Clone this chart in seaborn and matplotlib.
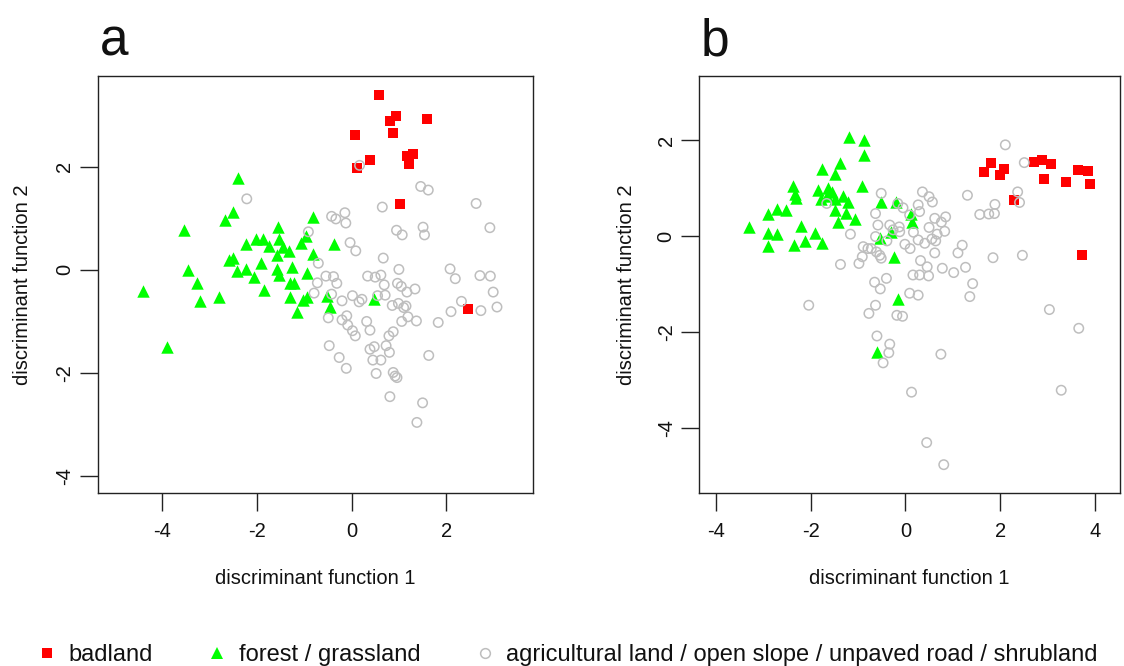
import numpy as np
import pandas as pd
import matplotlib
matplotlib.use("Agg")
import matplotlib.pyplot as plt
from matplotlib.lines import Line2D
import seaborn as sns

# ---------------- data ----------------
classes = ["badland", "forest / grassland",
           "agricultural land / open slope / unpaved road / shrubland"]

# panel a
a_bad_x = [0.58, 0.93, 0.81, 1.59, 0.08, 0.88, 0.39, 1.18, 1.29, 1.22, 0.12, 1.03, 2.45]
a_bad_y = [3.39, 2.99, 2.89, 2.92, 2.62, 2.65, 2.13, 2.21, 2.25, 2.05, 1.97, 1.28, -0.76]

a_for_x = [-2.40, -2.51, -2.66, -3.53, -1.56, -0.81, -2.22, -2.02, -1.86, -1.75, -1.53,
           -1.45, -1.31, -1.58, -0.97, -1.06, -0.81, -2.58, -2.51, -1.91, -2.23, -2.41,
           -1.58, -1.25, -0.94, -1.53, -2.05, -3.45, -3.27, -1.29, -1.22, -4.40, -3.19,
           -2.80, -1.84, -1.29, -1.03, -0.94, -1.15, -3.90, -0.36, -0.52, -0.45, 0.48]
a_for_y = [1.79, 1.13, 0.97, 0.78, 0.84, 1.02, 0.50, 0.60, 0.60, 0.47, 0.60,
           0.45, 0.36, 0.29, 0.65, 0.52, 0.30, 0.19, 0.24, 0.13, 0.01, -0.02,
           0.02, 0.05, -0.06, -0.10, -0.13, 0.00, -0.25, -0.26, -0.26, -0.41, -0.60,
           -0.52, -0.39, -0.52, -0.58, -0.52, -0.82, -1.49, 0.50, -0.50, -0.71, -0.57]

a_agr_x = [0.17, 1.46, 1.62, 2.63, 0.65, -0.42, -0.33, -0.14, -0.12, -0.91, 0.95, 1.07,
           1.51, 1.54, 2.92, -0.03, 0.09, -0.70, 0.67, 1.00, 2.08, 2.19, 2.71, 2.93,
           -0.54, -0.38, -0.72, -0.31, 0.34, 0.50, 0.62, 0.69, 0.97, 1.05, 1.17, 1.34,
           2.99, 3.07, 2.73, 2.32, 2.10, 1.83, -0.79, -0.42, -0.20, 0.02, 0.16, 0.22,
           0.55, 0.71, 0.86, 0.99, 1.10, 1.15, 1.06, 1.19, 1.37, -0.49, -0.20, -0.10,
           -0.08, 0.02, 0.08, 0.32, 0.39, 0.79, 0.88, -0.47, 0.39, 0.48, 0.73, 0.80,
           0.45, 0.62, -0.26, -0.11, 0.52, 0.88, 0.96, 0.92, 1.63, 0.81, 1.50, 1.38,
           -2.21]
a_agr_y = [2.03, 1.62, 1.55, 1.29, 1.22, 1.04, 0.99, 1.11, 0.91, 0.74, 0.77, 0.68,
           0.83, 0.68, 0.82, 0.53, 0.37, 0.13, 0.23, 0.01, 0.02, -0.17, -0.11, -0.12,
           -0.12, -0.13, -0.25, -0.26, -0.12, -0.14, -0.10, -0.29, -0.26, -0.32, -0.43, -0.37,
           -0.43, -0.72, -0.79, -0.61, -0.81, -1.02, -0.45, -0.47, -0.60, -0.50, -0.62, -0.57,
           -0.50, -0.49, -0.69, -0.65, -0.73, -0.70, -1.00, -0.91, -0.99, -0.93, -0.97, -0.89,
           -1.07, -1.18, -1.28, -1.00, -1.17, -1.28, -1.20, -1.47, -1.54, -1.49, -1.47, -1.60,
           -1.75, -1.75, -1.70, -1.91, -2.01, -1.99, -2.09, -2.06, -1.66, -2.46, -2.58, -2.96,
           1.38]

# panel b
b_bad_x = [1.81, 1.66, 2.08, 2.00, 2.72, 2.88, 3.08, 2.93, 3.39, 3.64, 3.86, 3.90, 2.29, 3.73]
b_bad_y = [1.53, 1.34, 1.39, 1.28, 1.55, 1.58, 1.51, 1.19, 1.13, 1.38, 1.35, 1.08, 0.75, -0.40]

b_for_x = [-1.19, -0.88, -0.88, -1.37, -1.77, -1.48, -2.37, -0.91, -2.33, -2.30, -1.84,
           -1.63, -1.54, -1.66, -1.79, -1.49, -1.32, -1.21, -1.49, -1.26, -1.07, -1.42,
           -2.71, -2.52, -2.90, -3.30, -2.91, -2.70, -2.90, -2.21, -2.35, -2.11, -1.90,
           -1.77, -0.51, -0.19, 0.11, 0.14, -0.54, -0.25, -0.30, -0.15, -0.59]
b_for_y = [2.07, 2.00, 1.69, 1.53, 1.40, 1.29, 1.05, 1.04, 0.88, 0.80, 0.96,
           1.01, 0.91, 0.84, 0.78, 0.78, 0.84, 0.70, 0.54, 0.49, 0.35, 0.30,
           0.56, 0.54, 0.47, 0.19, 0.06, 0.04, -0.20, 0.21, -0.19, -0.10, 0.06,
           -0.15, 0.70, 0.71, 0.45, 0.29, -0.05, -0.43, 0.09, -1.32, -2.41]

b_agr_x = [2.11, 2.51, 2.37, 2.41, 1.31, 1.89, 1.57, 1.76, 1.88, 1.85, 2.47, 0.36,
           0.50, 0.57, 0.27, -0.05, 0.62, 0.76, 0.85, 0.50, 0.17, 0.67, 0.83, 0.41,
           0.56, 0.64, -0.01, 0.10, 0.62, 1.20, 1.11, 0.32, 0.46, 0.30, 0.49, 0.78,
           1.02, 1.27, 1.42, 1.36, 0.09, 0.27, -0.06, 3.04, 3.66, 0.75, 0.13, 3.29,
           0.45, 0.81, -2.04, -0.65, -0.53, -0.63, -0.77, -0.18, -0.60, -0.33, -0.35,
           -0.47, -0.51, -0.16, -0.63, -0.58, -0.33, -0.13, -0.26, 0.09, 0.30, -1.16,
           -0.63, -0.39, -0.12, 0.27, -0.89, -0.79, -0.72, -0.61, -0.54, -0.51, -0.91,
           -0.98, -1.37, -0.40, 0.16, -1.66]
b_agr_y = [1.90, 1.53, 0.92, 0.70, 0.85, 0.66, 0.45, 0.46, 0.47, -0.45, -0.40, 0.92,
           0.82, 0.71, 0.65, 0.59, 0.37, 0.29, 0.40, 0.18, 0.08, 0.04, 0.10, -0.15,
           -0.06, -0.10, -0.17, -0.26, -0.35, -0.19, -0.35, -0.51, -0.64, -0.81, -0.83, -0.67,
           -0.76, -0.65, -0.99, -1.26, -1.19, -1.23, -1.67, -1.53, -1.92, -2.46, -3.25, -3.21,
           -4.30, -4.76, -1.44, -0.96, -1.10, -1.44, -1.61, -1.65, -2.08, -2.25, -2.43,
           -2.64, 0.89, 0.68, 0.47, 0.23, 0.23, 0.19, 0.13, 0.44, 0.51, 0.04,
           -0.01, -0.10, 0.09, -0.08, -0.22, -0.26, -0.26, -0.33, -0.40, -0.46, -0.43,
           -0.57, -0.59, -0.88, -0.81, 0.68]

x_ticks_a = [-4, -2, 0, 2]
x_ticks_b = [-4, -2, 0, 2, 4]
y_ticks_a = [-4, -2, 0, 2]
y_ticks_b = [-4, -2, 0, 2]

# ---------------- style ----------------
sns.set_style("white")
plt.rcParams["font.family"] = ["Liberation Sans", "DejaVu Sans"]

RED = "#FF0000"
GREEN = "#00FF00"
GRAY = "#BEBEBE"
W, H = 1124, 666
FS = 14.5

fig = plt.figure(figsize=(W / 100, H / 100), dpi=100)
top_px, bot_px = 75.7, 493
ax_a = fig.add_axes([97.5 / W, 1 - bot_px / H, (533 - 97.5) / W, (bot_px - top_px) / H])
ax_b = fig.add_axes([699.3 / W, 1 - bot_px / H, (1119.5 - 699.3) / W, (bot_px - top_px) / H])


def draw(ax, bx, by, fx, fy, gx, gy):
    sns.scatterplot(x=bx, y=by, ax=ax, marker="s", s=52, color=RED,
                    edgecolor=RED, linewidth=0, zorder=3)
    sns.scatterplot(x=fx, y=fy, ax=ax, marker="^", s=80, color=GREEN,
                    edgecolor=GREEN, linewidth=0, zorder=3)
    sns.scatterplot(x=gx, y=gy, ax=ax, marker="o", s=46, color=GRAY,
                    facecolor="none", edgecolor=GRAY, linewidth=1.1, zorder=3)
    for coll in ax.collections[2:]:
        coll.set_facecolor("none")


draw(ax_a, a_bad_x, a_bad_y, a_for_x, a_for_y, a_agr_x, a_agr_y)
draw(ax_b, b_bad_x, b_bad_y, b_for_x, b_for_y, b_agr_x, b_agr_y)

ax_a.set_xlim(-5.36, 3.83)
ax_a.set_ylim(-4.33, 3.77)
ax_b.set_xlim(-4.35, 4.52)
ax_b.set_ylim(-5.35, 3.34)

for ax, xt, yt in [(ax_a, x_ticks_a, y_ticks_a), (ax_b, x_ticks_b, y_ticks_b)]:
    ax.set_xticks(xt)
    ax.set_yticks(yt)
    ax.set_xticklabels([str(v) for v in xt])
    ax.set_yticklabels([str(v) for v in yt])
    for sp in ax.spines.values():
        sp.set_visible(True)
        sp.set_color("#222222")
        sp.set_linewidth(1.0)
    ax.tick_params(axis="both", which="both", direction="out", length=13, width=1.0,
                   color="#222222", labelsize=FS, labelcolor="#111111",
                   bottom=True, left=True, top=False, right=False)
    ax.tick_params(axis="x", pad=8)
    ax.tick_params(axis="y", pad=4, labelrotation=90)
    for lab in ax.get_yticklabels():
        lab.set_va("center")
    ax.set_xlabel("discriminant function 1", fontsize=FS, color="#111111")
    ax.set_ylabel("discriminant function 2", fontsize=FS, color="#111111")
    ax.xaxis.set_label_coords(0.5, -0.183)
    ax.yaxis.set_label_coords(-0.151, 0.5)
    ax.grid(False)

fig.text(100 / W, 1 - 55 / H, "a", fontsize=37, va="baseline", ha="left", color="#111111")
fig.text(701 / W, 1 - 55 / H, "b", fontsize=37, va="baseline", ha="left", color="#111111")

handles = [
    Line2D([], [], marker="s", linestyle="none", color=RED, markersize=7.5, markeredgewidth=0),
    Line2D([], [], marker="^", linestyle="none", color=GREEN, markersize=9, markeredgewidth=0),
    Line2D([], [], marker="o", linestyle="none", markerfacecolor="none",
           markeredgecolor=GRAY, markersize=7, markeredgewidth=1.1),
]
fig.legend(handles, classes, loc="center", bbox_to_anchor=(567 / W, 1 - 655 / H),
           ncol=3, frameon=False, fontsize=17, handlelength=0.9, handletextpad=0.45,
           columnspacing=2.3, borderpad=0, borderaxespad=0, labelcolor="#111111")

fig.savefig("out.png", dpi=100, facecolor="white")
